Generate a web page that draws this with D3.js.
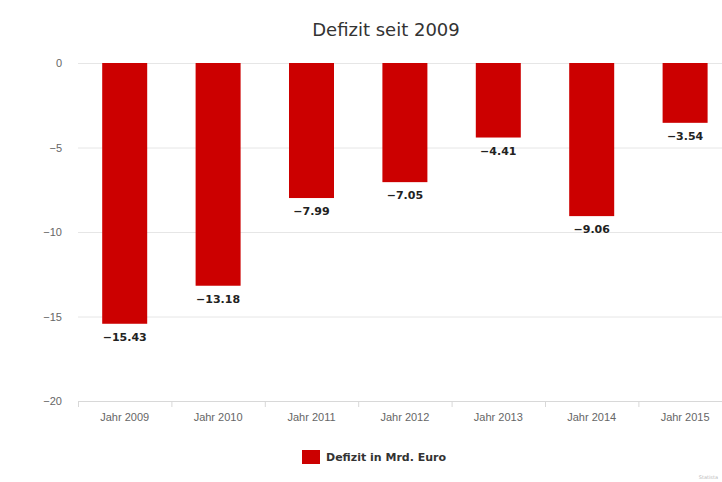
<!DOCTYPE html>
<html>
<head>
<meta charset='utf-8'>
<title>Defizit seit 2009</title>
<style>
  body {margin: 0; background: #fff;}
  svg {font-family: "DejaVu Sans", sans-serif;}
  .grid line {stroke: #e6e6e6; stroke-width: 1px;}
  .yaxis text, .xaxis text {fill: #666; font-size: 11px;}
  .label {fill: #222; font-size: 11px; font-weight: bold;}
</style>
</head>
<body>
<script src='https://d3js.org/d3.v7.min.js'></script>
<script>

var categories = ["Jahr 2009", "Jahr 2010", "Jahr 2011", "Jahr 2012", "Jahr 2013", "Jahr 2014", "Jahr 2015"];
var values = [-15.43, -13.18, -7.99, -7.05, -4.41, -9.06, -3.54];
var yTicks = [0, -5, -10, -15, -20];

var svg_w = 722, svg_h = 482;
var plotLeft = 78, plotTop = 63, plotBottom = 401;

var svg = d3.select('body').append('svg').attr('width', svg_w).attr('height', svg_h);

var x = d3.scaleBand().domain(categories).range([plotLeft, plotLeft + 7 * 93.4]).paddingInner(0).paddingOuter(0);
var y = d3.scaleLinear().domain([-20, 0]).range([plotBottom, plotTop]);

// title
svg.append('text')
  .attr('x', 386).attr('y', 36)
  .attr('text-anchor', 'middle')
  .style('font-size', '18px').style('fill', '#333')
  .text('Defizit seit 2009');

// gridlines
svg.append('g').attr('class', 'grid')
  .selectAll('line').data(yTicks.filter(function(d) { return d != -20; }))
  .enter().append('line')
    .attr('x1', plotLeft).attr('x2', svg_w)
    .attr('y1', function(d) { return y(d) + 0.5; })
    .attr('y2', function(d) { return y(d) + 0.5; });

// y axis labels
var yAxis = d3.axisLeft(y).tickValues(yTicks).tickSize(0).tickPadding(16);
svg.append('g').attr('class', 'yaxis')
  .attr('transform', 'translate(' + plotLeft + ',0)')
  .call(yAxis)
  .call(function(g) { g.select('.domain').remove(); });

// x axis
var xAxis = d3.axisBottom(x).tickSize(0).tickPadding(12);
var xg = svg.append('g').attr('class', 'xaxis')
  .attr('transform', 'translate(0,' + plotBottom + ')')
  .call(xAxis);
xg.select('.domain').remove();
xg.append('line')
  .attr('x1', plotLeft).attr('x2', svg_w).attr('y1', 0.5).attr('y2', 0.5)
  .style('stroke', '#d8d8d8');
xg.selectAll('.sep').data(categories)
  .enter().append('line').attr('class', 'sep')
    .attr('x1', function(d) { return x(d) + 0.5; })
    .attr('x2', function(d) { return x(d) + 0.5; })
    .attr('y1', 0).attr('y2', 6)
    .style('stroke', '#d8d8d8');

// bars
var barW = 45;
svg.selectAll('.bar').data(values)
  .enter().append('rect').attr('class', 'bar')
    .attr('x', function(d, i) { return x(categories[i]) + x.bandwidth() / 2 - barW / 2; })
    .attr('y', y(0))
    .attr('width', barW)
    .attr('height', function(d) { return y(d) - y(0); })
    .style('fill', '#cc0000');

// data labels
svg.selectAll('.label').data(values)
  .enter().append('text').attr('class', 'label')
    .attr('x', function(d, i) { return x(categories[i]) + x.bandwidth() / 2; })
    .attr('y', function(d) { return y(d) + 17; })
    .attr('text-anchor', 'middle')
    .text(function(d) { return d.toFixed(2).replace('-', '\u2212'); });

// legend
svg.append('rect')
  .attr('x', 302).attr('y', 450).attr('width', 18).attr('height', 14)
  .style('fill', '#cc0000');
svg.append('text')
  .attr('x', 326).attr('y', 461)
  .style('font-size', '11px').style('font-weight', 'bold').style('fill', '#333')
  .text('Defizit in Mrd. Euro');

// credit
svg.append('text')
  .attr('x', 718).attr('y', 479).attr('text-anchor', 'end')
  .style('font-size', '5px').style('fill', '#bbb')
  .text('Statista');

</script>
</body>
</html>
